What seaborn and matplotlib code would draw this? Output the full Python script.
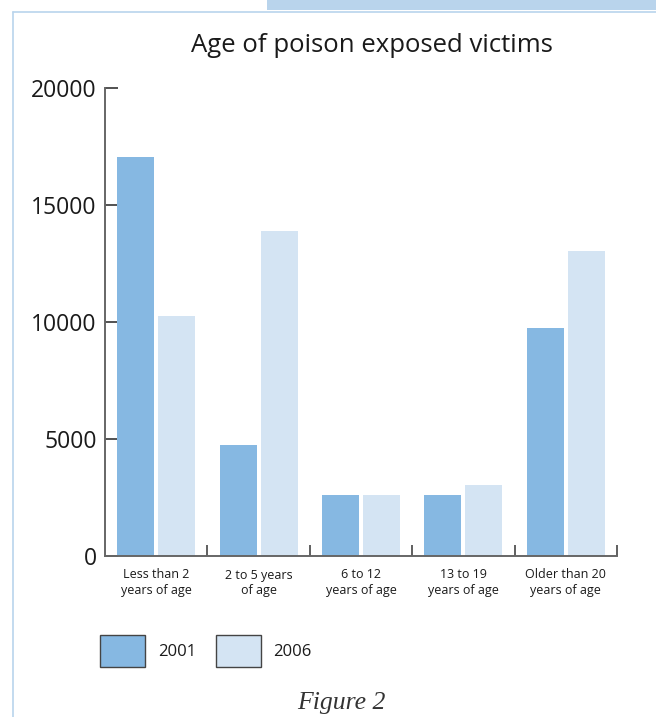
import matplotlib
matplotlib.use("Agg")
import matplotlib.pyplot as plt
from matplotlib.patches import Patch, Rectangle
from matplotlib.lines import Line2D
import seaborn as sns
import pandas as pd

# Data
age_groups = ["Less than 2\nyears of age", "2 to 5 years\nof age", "6 to 12\nyears of age",
              "13 to 19\nyears of age", "Older than 20\nyears of age"]
years = ["2001", "2006"]
victims_2001 = [17050, 4750, 2600, 2600, 9750]
victims_2006 = [10250, 13900, 2600, 3050, 13050]
y_ticks = [0, 5000, 10000, 15000, 20000]
title = "Age of poison exposed victims"
caption = "Figure 2"

colors = ["#86b8e2", "#d4e4f3"]
frame_blue = "#b9d4ec"
axis_grey = "#666666"

df = pd.DataFrame({
    "group": age_groups * 2,
    "year": [years[0]] * len(age_groups) + [years[1]] * len(age_groups),
    "victims": victims_2001 + victims_2006,
})

sns.set_theme(style="white")
plt.rcParams["font.family"] = ["Open Sans", "DejaVu Sans"]

W, H = 656, 717
fig = plt.figure(figsize=(W / 100, H / 100), dpi=100)
ax = fig.add_axes([105 / W, 1 - 556 / H, (617 - 105) / W, (556 - 88) / H])

sns.barplot(data=df, x="group", y="victims", hue="year", palette=colors,
            order=age_groups, hue_order=years, width=0.8, gap=0.1,
            saturation=1, linewidth=0, legend=False, ax=ax)

ax.set_xlim(-0.5, len(age_groups) - 0.5)
ax.set_ylim(0, 20000)
ax.set_xlabel("")
ax.set_ylabel("")

# Spines
for side in ["top", "right"]:
    ax.spines[side].set_visible(False)
for side in ["left", "bottom"]:
    ax.spines[side].set_color(axis_grey)
    ax.spines[side].set_linewidth(1.4)

# Y ticks pointing inward
ax.set_yticks(y_ticks)
ax.set_yticklabels([str(v) for v in y_ticks])
ax.tick_params(axis="y", direction="in", length=9.5, width=1.2, color="#333333",
               pad=6, labelsize=16.5, labelcolor="#1a1a1a", left=True)

# X labels at group centres, tick marks at group boundaries
ax.set_xticks(range(len(age_groups)))
ax.set_xticklabels(age_groups, fontsize=9, color="#1a1a1a", linespacing=1.25)
ax.tick_params(axis="x", which="major", length=0, pad=9)
ax.set_xticks([i + 0.5 for i in range(len(age_groups))], minor=True)
ax.tick_params(axis="x", which="minor", direction="in", length=8, width=1.2,
               color="#444444", bottom=True)

# Title
fig.text(371.5 / W, 1 - 52 / H, title, ha="center", va="baseline",
         fontsize=18.5, color="#1a1a1a")

# Legend
handles = [Patch(facecolor=c, edgecolor="#444444", linewidth=1.0) for c in colors]
fig.legend(handles, years, loc="center left", bbox_to_anchor=(92 / W, 1 - 651 / H),
           ncol=2, frameon=False, fontsize=12, handlelength=2.7, handleheight=2.6,
           handletextpad=0.75, columnspacing=1.2, borderpad=0, labelcolor="#1a1a1a")

# Caption
fig.text(341.5 / W, 1 - 709 / H, caption, ha="center", va="baseline", fontsize=18.5,
         style="italic", family=["Liberation Serif", "DejaVu Serif"], color="#333333")

# Page frame decorations
fig.add_artist(Rectangle((267 / W, 1 - 10 / H), (W - 267) / W, 10 / H,
                         transform=fig.transFigure, facecolor=frame_blue,
                         edgecolor="none"))
fig.add_artist(Line2D([12.5 / W, 12.5 / W], [0, 1 - 11.5 / H], transform=fig.transFigure,
                      color=frame_blue, linewidth=1.2))
fig.add_artist(Line2D([12.5 / W, 1], [1 - 11.5 / H, 1 - 11.5 / H], transform=fig.transFigure,
                      color=frame_blue, linewidth=1.2))

fig.savefig("out.png", dpi=100, facecolor="white")
